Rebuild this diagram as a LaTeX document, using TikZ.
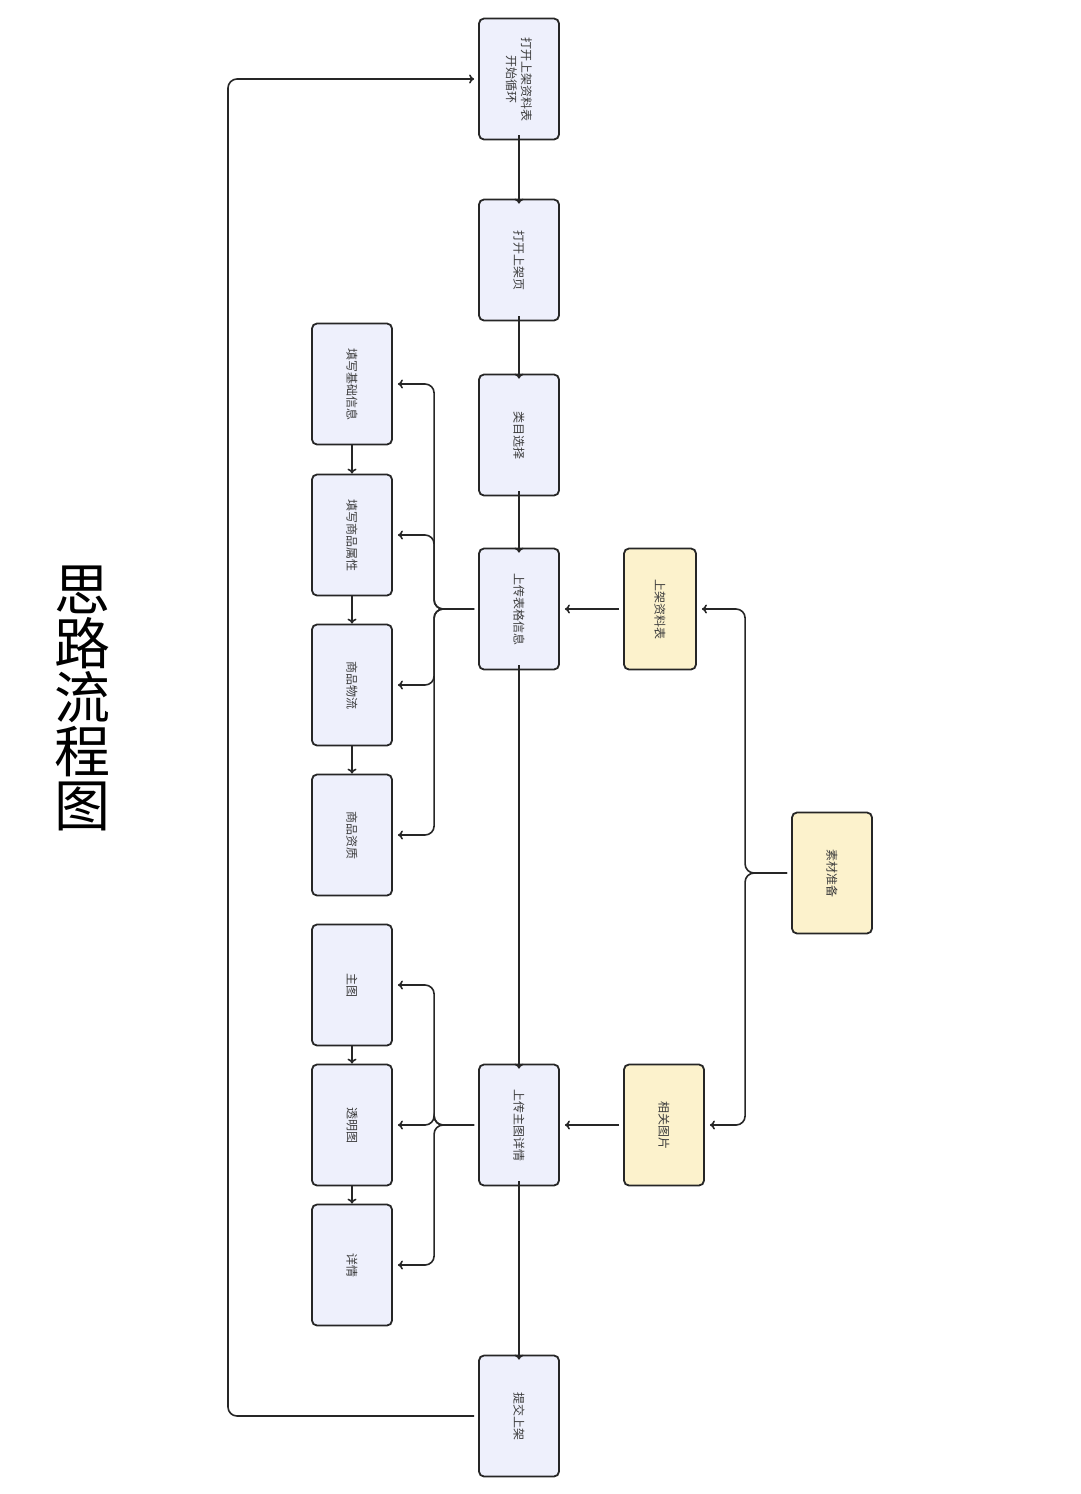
\documentclass[tikz,border=0pt]{standalone}
\usepackage{fontspec}
\setmainfont{Noto Sans CJK SC}
\usetikzlibrary{arrows.meta}
\definecolor{lav}{RGB}{238,240,252}
\definecolor{yel}{RGB}{252,242,204}
\definecolor{txt}{RGB}{60,60,60}
\begin{document}
\begin{tikzpicture}[x=1pt,y=-1pt,
  box/.style={draw=black!85,line width=1.8pt,rounded corners=5pt,fill=lav,minimum width=80pt,minimum height=121pt,inner sep=0pt},
  ybox/.style={box,fill=yel},
  lbl/.style={rotate=-90,font=\fontsize{12}{15}\selectfont,text=txt,align=center},
  arr/.style={draw=black!85,line width=1.6pt,-{To[length=5pt,width=9pt]},rounded corners=9pt}]
\useasboundingbox (0,0) rectangle (1080,1494);
\node[font=\fontsize{56}{62}\selectfont,align=center] (title) at (82,698) {思\\[-8pt]路\\[-8pt]流\\[-8pt]程\\[-8pt]图};
\node[box] (n1) at (519,79) {};
\node[lbl] at (n1) {打开上架资料表\\开始循环};
\node[box] (n2) at (519,260) {};\node[lbl] at (n2) {打开上架页};
\node[box] (n3) at (519,435) {};\node[lbl] at (n3) {类目选择};
\node[box] (n4) at (519,609) {};\node[lbl] at (n4) {上传表格信息};
\node[box] (n5) at (519,1125) {};\node[lbl] at (n5) {上传主图详情};
\node[box] (n6) at (519,1416) {};\node[lbl] at (n6) {提交上架};
\node[box] (a1) at (352,384) {};\node[lbl] at (a1) {填写基础信息};
\node[box] (a2) at (352,535) {};\node[lbl] at (a2) {填写商品属性};
\node[box] (a3) at (352,685) {};\node[lbl] at (a3) {商品物流};
\node[box] (a4) at (352,835) {};\node[lbl] at (a4) {商品资质};
\node[box] (b1) at (352,985) {};\node[lbl] at (b1) {主图};
\node[box] (b2) at (352,1125) {};\node[lbl] at (b2) {透明图};
\node[box] (b3) at (352,1265) {};\node[lbl] at (b3) {详情};
\node[ybox,minimum width=72pt] (y1) at (660,609) {};\node[lbl] at (y1) {上架资料表};
\node[ybox] (y2) at (664,1125) {};\node[lbl] at (y2) {相关图片};
\node[ybox] (y3) at (832,873) {};\node[lbl] at (y3) {素材准备};
\draw[arr] ([yshift=5pt]n1.south) -- ([yshift=-5pt]n2.north);
\draw[arr] ([yshift=5pt]n2.south) -- ([yshift=-5pt]n3.north);
\draw[arr] ([yshift=5pt]n3.south) -- ([yshift=-5pt]n4.north);
\draw[arr] ([yshift=5pt]n4.south) -- ([yshift=-5pt]n5.north);
\draw[arr] ([yshift=5pt]n5.south) -- ([yshift=-5pt]n6.north);
\foreach \t in {a1,a2,a3,a4}{\draw[arr] ([xshift=-4pt]n4.west) -- ++(-40,0) |- ([xshift=5pt]\t.east);}
\foreach \t in {b1,b2,b3}{\draw[arr] ([xshift=-4pt]n5.west) -- ++(-40,0) |- ([xshift=5pt]\t.east);}
\draw[arr] (a1.south) -- (a2.north);
\draw[arr] (a2.south) -- (a3.north);
\draw[arr] (a3.south) -- (a4.north);
\draw[arr] (b1.south) -- (b2.north);
\draw[arr] (b2.south) -- (b3.north);
\draw[arr] ([xshift=-4pt]y1.west) -- ([xshift=5pt]n4.east);
\draw[arr] ([xshift=-4pt]y2.west) -- ([xshift=5pt]n5.east);
\draw[arr] ([xshift=-4pt]y3.west) -- ++(-42,0) |- ([xshift=5pt]y1.east);
\draw[arr] ([xshift=-4pt]y3.west) -- ++(-42,0) |- ([xshift=5pt]y2.east);
\coordinate (lp) at (228,1416);
\draw[arr] ([xshift=-4pt]n6.west) -- (lp) |- ([xshift=-4pt]n1.west);
\end{tikzpicture}
\end{document}
